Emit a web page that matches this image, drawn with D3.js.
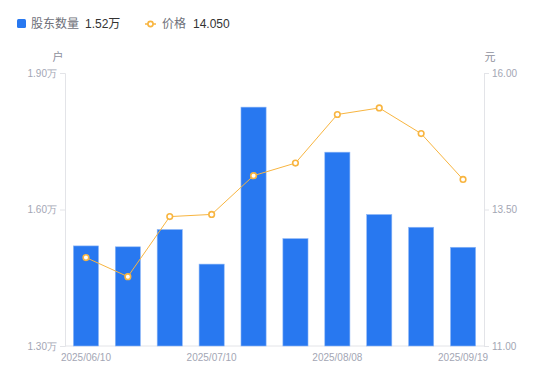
<!DOCTYPE html>
<html>
<head>
<meta charset="utf-8">
<script src="https://cdn.jsdelivr.net/npm/d3@7"></script>
<style>
  body { margin: 0; background: #fff; }
  svg { font-family: "Liberation Sans", Arial, "Noto Sans CJK SC", sans-serif; }
</style>
</head>
<body>
<div id="chart"></div>
<script>
// data
const dates = ["2025/06/10", "2025/06/20", "2025/06/30", "2025/07/10", "2025/07/18",
               "2025/07/31", "2025/08/08", "2025/08/20", "2025/08/29", "2025/09/19"]
const holders = [1.52, 1.518, 1.556, 1.48, 1.825, 1.536, 1.726, 1.589, 1.561, 1.517] // 万户
const prices = [12.62, 12.27, 13.37, 13.41, 14.12, 14.35, 15.24, 15.36, 14.89, 14.05]
const leftTicks = [1.30, 1.60, 1.90]
const rightTicks = [11.00, 13.50, 16.00]
const shownDates = ["2025/06/10", "2025/07/10", "2025/08/08", "2025/09/19"]

const width = 550, height = 381
const margin = {top: 73, right: 66, bottom: 35, left: 65}

const svg = d3.select("#chart").append("svg")
  .attr("width", width)
  .attr("height", height)

const x = d3.scaleBand()
  .domain(dates)
  .range([margin.left, width - margin.right])
  .paddingInner(0.4)
  .paddingOuter(0.2)

const yL = d3.scaleLinear().domain([1.30, 1.90]).range([height - margin.bottom, margin.top])
const yR = d3.scaleLinear().domain([11, 16]).range([height - margin.bottom, margin.top])

const axisColor = "#e3e4e8"
const labelColor = "#a3a6b4"

// left axis
const leftAxis = svg.append("g")
  .attr("transform", `translate(${margin.left},0)`)
  .call(d3.axisLeft(yL).tickValues(leftTicks).tickSize(5).tickPadding(3)
    .tickFormat(d => d3.format(".2f")(d) + "万"))
// right axis
const rightAxis = svg.append("g")
  .attr("transform", `translate(${width - margin.right},0)`)
  .call(d3.axisRight(yR).tickValues(rightTicks).tickSize(5).tickPadding(3)
    .tickFormat(d3.format(".2f")))
// bottom axis
const bottomAxis = svg.append("g")
  .attr("transform", `translate(0,${height - margin.bottom})`)
  .call(d3.axisBottom(x).tickValues(shownDates).tickSize(0).tickPadding(8).tickSizeOuter(0))

for (const g of [leftAxis, rightAxis, bottomAxis]) {
  g.select(".domain").attr("stroke", axisColor)
  g.selectAll(".tick line").attr("stroke", axisColor)
  g.selectAll(".tick text").attr("fill", labelColor).attr("font-size", 10)
}
bottomAxis.select(".domain").attr("d", `M${margin.left},0H${width - margin.right}`)

// unit labels
svg.append("text").attr("x", 58).attr("y", 61).attr("text-anchor", "middle")
  .attr("fill", "#8e909c").attr("font-size", 11).text("户")
svg.append("text").attr("x", 490).attr("y", 61).attr("text-anchor", "middle")
  .attr("fill", "#8e909c").attr("font-size", 11).text("元")

// bars
svg.append("g").selectAll("rect")
  .data(holders)
  .join("rect")
    .attr("x", (d, i) => x(dates[i]))
    .attr("y", d => yL(d))
    .attr("width", x.bandwidth())
    .attr("height", d => yL(1.30) - yL(d))
    .attr("fill", "#2878f0")
    .attr("stroke", "#8fb8f7")
    .attr("stroke-width", 0.6)

// price line
const line = d3.line()
  .x((d, i) => x(dates[i]) + x.bandwidth() / 2)
  .y(d => yR(d))

svg.append("path")
  .datum(prices)
  .attr("fill", "none")
  .attr("stroke", "#f8b540")
  .attr("stroke-width", 1)
  .attr("d", line)

svg.append("g").selectAll("circle")
  .data(prices)
  .join("circle")
    .attr("cx", (d, i) => x(dates[i]) + x.bandwidth() / 2)
    .attr("cy", d => yR(d))
    .attr("r", 2.8)
    .attr("fill", "#fff")
    .attr("stroke", "#f8b540")
    .attr("stroke-width", 1.6)

// legend
const legend = svg.append("g").attr("font-size", 12)
legend.append("rect").attr("x", 17).attr("y", 19).attr("width", 9).attr("height", 9)
  .attr("rx", 1.5).attr("fill", "#2878f0")
legend.append("text").attr("x", 31).attr("y", 28).attr("fill", "#6e7079").text("股东数量")
legend.append("text").attr("x", 85).attr("y", 28).attr("fill", "#333").text(holders[holders.length - 1].toFixed(2) + "万")

legend.append("line").attr("x1", 145).attr("x2", 156).attr("y1", 24).attr("y2", 24)
  .attr("stroke", "#f8b540").attr("stroke-width", 1.5)
legend.append("circle").attr("cx", 150.5).attr("cy", 24).attr("r", 2.6)
  .attr("fill", "#fff").attr("stroke", "#f8b540").attr("stroke-width", 1.6)
legend.append("text").attr("x", 162).attr("y", 28).attr("fill", "#6e7079").text("价格")
legend.append("text").attr("x", 193).attr("y", 28).attr("fill", "#333").text(prices[prices.length - 1].toFixed(3))
</script>
</body>
</html>
